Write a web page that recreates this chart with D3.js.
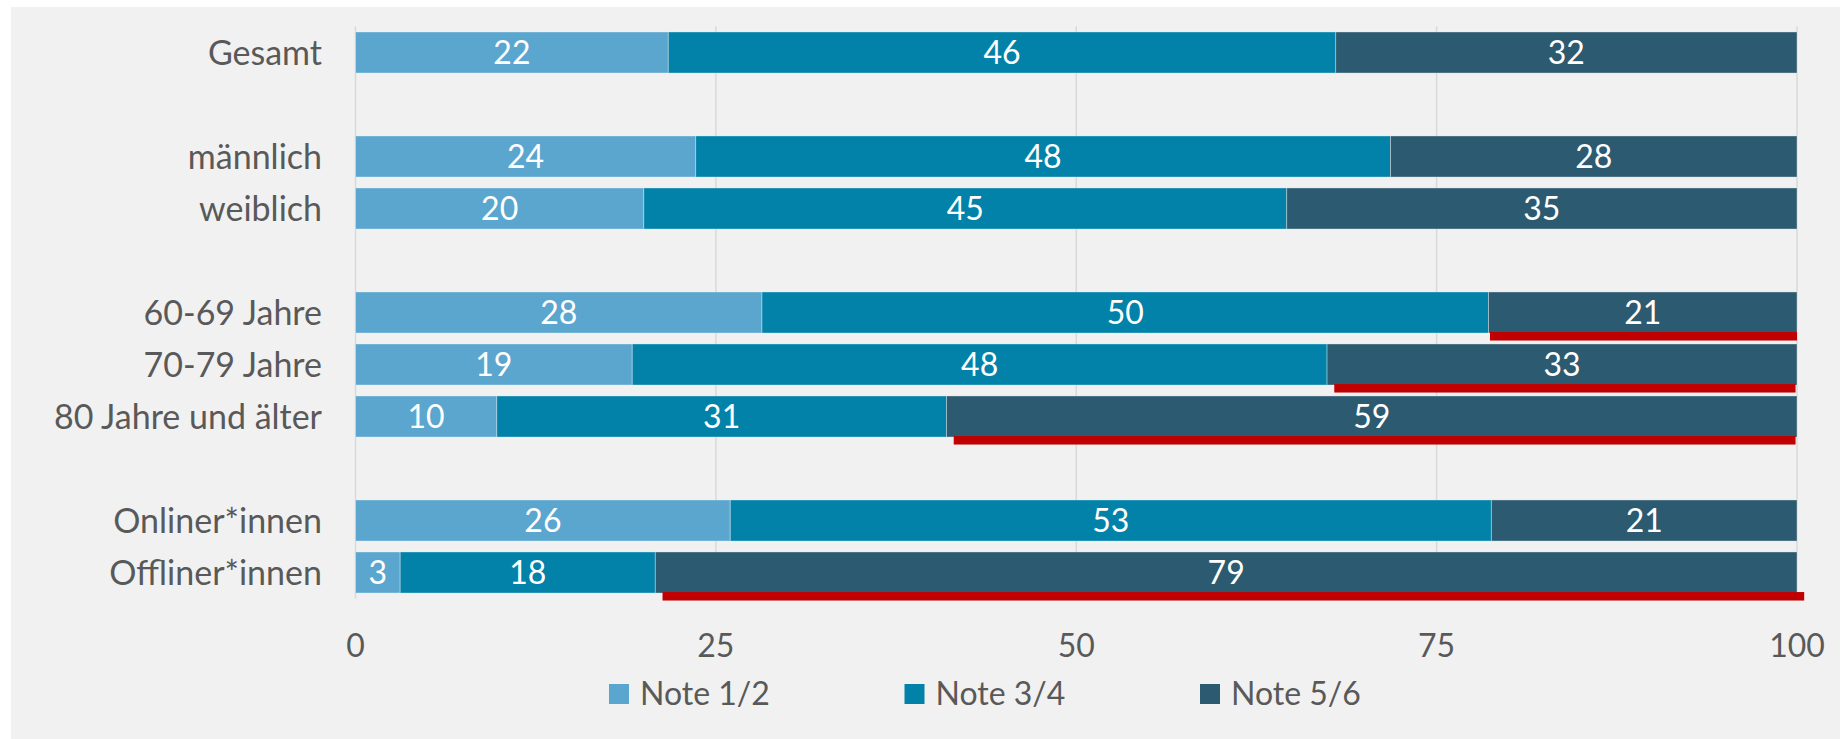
<!DOCTYPE html>
<html>
<head>
<meta charset="utf-8">
<script src="https://cdn.jsdelivr.net/npm/d3@7"></script>
<style>
	body { margin: 0; background: #ffffff; }
	svg text { font-family: Lato, "Noto Sans", sans-serif; }
</style>
</head>
<body>
<div id="chart"></div>
<script>

var width = 1840,
	height = 739;

// rows, "" = empty gap row
var categories = ['Gesamt', '', 'männlich', 'weiblich', '', '60-69 Jahre', '70-79 Jahre', '80 Jahre und älter', '', 'Onliner*innen', 'Offliner*innen'];

var seriesNames = ['Note 1/2', 'Note 3/4', 'Note 5/6'];
var seriesColors = ['#5ba6cf', '#0282a8', '#2c5a70'];

// values (null for gap rows)
var note12 = [21.7, null, 23.6, 20.0, null, 28.2, 19.2, 9.8, null, 26.0, 3.1];
var note34 = [46.3, null, 48.2, 44.6, null, 50.4, 48.2, 31.2, null, 52.8, 17.7];
var note56 = [32.0, null, 28.2, 35.4, null, 21.4, 32.6, 59.0, null, 21.2, 79.2];

// labels printed in the bars
var labels12 = [22, null, 24, 20, null, 28, 19, 10, null, 26, 3];
var labels34 = [46, null, 48, 45, null, 50, 48, 31, null, 53, 18];
var labels56 = [32, null, 28, 35, null, 21, 33, 59, null, 21, 79];

// red underline marks (start / end on the value axis)
var markRows = ['60-69 Jahre', '70-79 Jahre', '80 Jahre und älter', 'Offliner*innen'];
var markFrom = [78.7, 67.9, 41.5, 21.3];
var markTo = [100, 99.9, 99.9, 100.5];

var xTicks = [0, 25, 50, 75, 100];

var svg = d3.select('#chart').append('svg')
	.attr('width', width)
	.attr('height', height);

// backdrop
svg.append('rect')
	.attr('x', 11)
	.attr('y', 7)
	.attr('width', width - 11)
	.attr('height', height - 7)
	.style('fill', '#f1f1f1');

var x = d3.scaleLinear()
	.domain([0, 100])
	.range([355.5, 1797]);

var y = d3.scaleBand()
	.domain(d3.range(categories.length))
	.range([26.5, 598.5])
	.paddingInner(0.21)
	.paddingOuter(0.105);

// gridlines
svg.append('g')
	.classed('grid', true)
	.selectAll('line')
	.data(xTicks)
	.enter()
	.append('line')
	.attr('x1', d => x(d))
	.attr('x2', d => x(d))
	.attr('y1', 26.5)
	.attr('y2', 598.5)
	.style('stroke', '#d9d9d9')
	.style('stroke-width', 1.5);

// tick labels
svg.append('g')
	.selectAll('text')
	.data(xTicks)
	.enter()
	.append('text')
	.attr('x', d => x(d))
	.attr('y', 645)
	.attr('dy', '0.36em')
	.attr('text-anchor', 'middle')
	.style('font-size', '32px')
	.style('fill', '#595959')
	.text(d => d);

// build stacked rows
var rows = [];
categories.forEach(function(c, i) {
	if (c === '') return;
	var vals = [note12[i], note34[i], note56[i]];
	var labs = [labels12[i], labels34[i], labels56[i]];
	var start = 0;
	vals.forEach(function(v, k) {
		rows.push({ row: i, series: k, x0: start, x1: start + v, label: labs[k] });
		start += v;
	});
});

var bars = svg.append('g').classed('bars', true);

bars.selectAll('rect')
	.data(rows)
	.enter()
	.append('rect')
	.attr('x', d => x(d.x0))
	.attr('y', d => y(d.row))
	.attr('width', d => x(d.x1) - x(d.x0))
	.attr('height', y.bandwidth())
	.style('fill', d => seriesColors[d.series])
	.style('stroke', 'rgba(255,255,255,0.35)')
	.style('stroke-width', 1);

bars.selectAll('text')
	.data(rows)
	.enter()
	.append('text')
	.attr('x', d => x((d.x0 + d.x1) / 2))
	.attr('y', d => y(d.row) + y.bandwidth() / 2)
	.attr('dy', '0.36em')
	.attr('text-anchor', 'middle')
	.style('font-size', '32px')
	.style('fill', '#ffffff')
	.text(d => d.label);

// red underline marks
svg.append('g')
	.selectAll('rect')
	.data(markRows)
	.enter()
	.append('rect')
	.attr('x', (d, i) => x(markFrom[i]))
	.attr('y', d => y(categories.indexOf(d)) + y.bandwidth() - 1)
	.attr('width', (d, i) => x(markTo[i]) - x(markFrom[i]))
	.attr('height', 8.5)
	.style('fill', '#c00000');

// category labels
svg.append('g')
	.selectAll('text')
	.data(categories)
	.enter()
	.append('text')
	.attr('x', 322)
	.attr('y', (d, i) => y(i) + y.bandwidth() / 2)
	.attr('dy', '0.36em')
	.attr('text-anchor', 'end')
	.style('font-size', '34px')
	.style('fill', '#595959')
	.text(d => d);

// legend
var legend = svg.append('g')
	.selectAll('g')
	.data(seriesNames)
	.enter()
	.append('g')
	.attr('transform', (d, i) => 'translate(' + (609 + i * 295.5) + ',0)');

legend.append('rect')
	.attr('x', 0)
	.attr('y', 684)
	.attr('width', 20)
	.attr('height', 20)
	.style('fill', (d, i) => seriesColors[i]);

legend.append('text')
	.attr('x', 31)
	.attr('y', 693)
	.attr('dy', '0.36em')
	.style('font-size', '32px')
	.style('fill', '#595959')
	.text(d => d);

</script>
</body>
</html>
